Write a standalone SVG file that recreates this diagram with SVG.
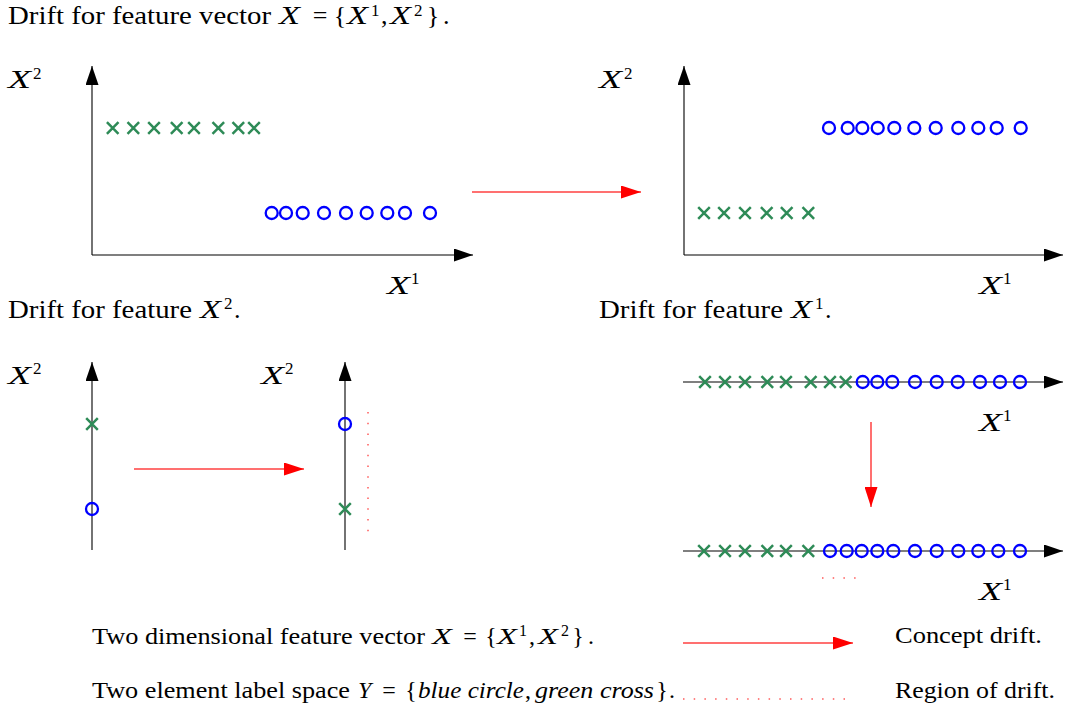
<svg xmlns="http://www.w3.org/2000/svg" width="1068" height="709" viewBox="0 0 1068 709">
<style>
.t{font-family:'Liberation Serif','Times New Roman',Times,'DejaVu Serif',serif;fill:#000}
.s26{font-size:26px}
.s24{font-size:24px}
.sup{font-size:17px}
.it{font-style:italic}
.mid{text-anchor:middle}
.axis{stroke:#000;stroke-width:1.1;fill:none}
.cx{stroke:#2e8b57;stroke-width:2.5;fill:none}
.o{stroke:#0000ff;stroke-width:2.3;fill:none}
.drift{stroke:#ff4040;stroke-width:1.5;fill:none}
.dots{stroke:#ff5a5a;stroke-width:1.5;fill:none;stroke-dasharray:1.5 9.2}
</style>
<defs>
<marker id="ahK" viewBox="0 0 19 13" markerWidth="19" markerHeight="13" refX="19" refY="6.5" orient="auto" markerUnits="userSpaceOnUse"><path d="M0,0 L19,6.5 L0,13 z" fill="#000"/></marker>
<marker id="ahR" viewBox="0 0 20 13" markerWidth="20" markerHeight="13" refX="20" refY="6.5" orient="auto" markerUnits="userSpaceOnUse"><path d="M0,0 L20,6.5 L0,13 z" fill="#ff0000"/></marker>
<path id="x" class="cx" d="M-5.8,-5.8 L5.8,5.8 M-5.8,5.8 L5.8,-5.8"/>
</defs>

<g id="title" font-family="Liberation Serif, serif">
<text class="t s26" x="8" y="24" textLength="263" lengthAdjust="spacingAndGlyphs">Drift for feature vector</text>
<text class="t s26 it" x="279" y="24" textLength="21" lengthAdjust="spacingAndGlyphs">X</text>
<text class="t s26 mid" x="320" y="24">=</text>
<text class="t s26 mid" x="340" y="24">{</text>
<text class="t s26 it" x="347" y="24" textLength="21" lengthAdjust="spacingAndGlyphs">X</text>
<text class="t sup" x="371" y="16">1</text>
<text class="t s26" x="381" y="24">,</text>
<text class="t s26 it" x="390" y="24" textLength="21" lengthAdjust="spacingAndGlyphs">X</text>
<text class="t sup" x="414" y="16">2</text>
<text class="t s26 mid" x="433" y="24">}</text>
<text class="t s26" x="443" y="24">.</text>
</g>

<g id="plot-before">
<line class="axis" x1="92" y1="255" x2="92" y2="66" marker-end="url(#ahK)"/>
<line class="axis" x1="92" y1="255" x2="473" y2="255" marker-end="url(#ahK)"/>
<text class="t s26 it" x="8" y="88" textLength="23" lengthAdjust="spacingAndGlyphs">X</text>
<text class="t sup" x="33" y="78.5">2</text>
<text class="t s26 it" x="387" y="294" textLength="23" lengthAdjust="spacingAndGlyphs">X</text>
<text class="t sup" x="411" y="284">1</text>
<use href="#x" x="112.7" y="128"/><use href="#x" x="133.3" y="128"/><use href="#x" x="154" y="128"/><use href="#x" x="176.7" y="128"/><use href="#x" x="194" y="128"/><use href="#x" x="218.3" y="128"/><use href="#x" x="238.3" y="128"/><use href="#x" x="254" y="128"/>
<circle class="o" cx="271.7" cy="213" r="6"/><circle class="o" cx="286" cy="213" r="6"/><circle class="o" cx="302.7" cy="213" r="6"/><circle class="o" cx="324" cy="213" r="6"/><circle class="o" cx="346" cy="213" r="6"/><circle class="o" cx="366.7" cy="213" r="6"/><circle class="o" cx="387.3" cy="213" r="6"/><circle class="o" cx="405" cy="213" r="6"/><circle class="o" cx="430" cy="213" r="6"/>
</g>

<g id="plot-after">
<line class="axis" x1="684" y1="255" x2="684" y2="66" marker-end="url(#ahK)"/>
<line class="axis" x1="684" y1="255" x2="1063" y2="255" marker-end="url(#ahK)"/>
<text class="t s26 it" x="599" y="88" textLength="23" lengthAdjust="spacingAndGlyphs">X</text>
<text class="t sup" x="624" y="78.5">2</text>
<text class="t s26 it" x="979" y="294" textLength="23" lengthAdjust="spacingAndGlyphs">X</text>
<text class="t sup" x="1003" y="284">1</text>
<use href="#x" x="704" y="213"/><use href="#x" x="724" y="213"/><use href="#x" x="745" y="213"/><use href="#x" x="766.7" y="213"/><use href="#x" x="786.7" y="213"/><use href="#x" x="808.3" y="213"/>
<circle class="o" cx="829" cy="128" r="6"/><circle class="o" cx="847.7" cy="128" r="6"/><circle class="o" cx="862.3" cy="128" r="6"/><circle class="o" cx="877.7" cy="128" r="6"/><circle class="o" cx="894.3" cy="128" r="6"/><circle class="o" cx="914.3" cy="128" r="6"/><circle class="o" cx="935.7" cy="128" r="6"/><circle class="o" cx="958.3" cy="128" r="6"/><circle class="o" cx="978.3" cy="128" r="6"/><circle class="o" cx="996.7" cy="128" r="6"/><circle class="o" cx="1020.7" cy="128" r="6"/>
</g>

<g id="subtitle-x2">
<text class="t s26" x="8" y="318" textLength="184" lengthAdjust="spacingAndGlyphs">Drift for feature</text>
<text class="t s26 it" x="200" y="318" textLength="21" lengthAdjust="spacingAndGlyphs">X</text>
<text class="t sup" x="224" y="309">2</text>
<text class="t s26" x="234" y="318">.</text>
</g>

<g id="subtitle-x1">
<text class="t s26" x="599" y="318" textLength="184" lengthAdjust="spacingAndGlyphs">Drift for feature</text>
<text class="t s26 it" x="791" y="318" textLength="21" lengthAdjust="spacingAndGlyphs">X</text>
<text class="t sup" x="815" y="309">1</text>
<text class="t s26" x="825" y="318">.</text>
</g>

<g id="x2-before">
<line class="axis" x1="92" y1="550" x2="92" y2="362" marker-end="url(#ahK)"/>
<text class="t s26 it" x="8" y="384" textLength="23" lengthAdjust="spacingAndGlyphs">X</text>
<text class="t sup" x="33" y="373.5">2</text>
<use href="#x" x="92" y="424"/>
<circle class="o" cx="92" cy="509" r="6"/>
</g>

<g id="x2-after">
<line class="axis" x1="345" y1="550" x2="345" y2="362" marker-end="url(#ahK)"/>
<text class="t s26 it" x="261" y="384" textLength="23" lengthAdjust="spacingAndGlyphs">X</text>
<text class="t sup" x="285" y="373.5">2</text>
<circle class="o" cx="345" cy="424" r="6"/>
<use href="#x" x="345" y="509"/>
<line class="dots" x1="368" y1="412" x2="368" y2="533"/>
</g>

<g id="x1-before">
<line class="axis" x1="683" y1="382" x2="1063" y2="382" marker-end="url(#ahK)"/>
<text class="t s26 it" x="979" y="431" textLength="23" lengthAdjust="spacingAndGlyphs">X</text>
<text class="t sup" x="1003" y="421">1</text>
<use href="#x" x="705" y="382"/><use href="#x" x="725" y="382"/><use href="#x" x="745" y="382"/><use href="#x" x="767.3" y="382"/><use href="#x" x="786" y="382"/><use href="#x" x="810.7" y="382"/><use href="#x" x="830" y="382"/><use href="#x" x="845.7" y="382"/>
<circle class="o" cx="862.7" cy="382" r="6"/><circle class="o" cx="877.3" cy="382" r="6"/><circle class="o" cx="892.3" cy="382" r="6"/><circle class="o" cx="915" cy="382" r="6"/><circle class="o" cx="936.7" cy="382" r="6"/><circle class="o" cx="957.7" cy="382" r="6"/><circle class="o" cx="980" cy="382" r="6"/><circle class="o" cx="1000" cy="382" r="6"/><circle class="o" cx="1020" cy="382" r="6"/>
</g>

<g id="x1-after">
<line class="axis" x1="683" y1="551" x2="1063" y2="551" marker-end="url(#ahK)"/>
<text class="t s26 it" x="979" y="600" textLength="23" lengthAdjust="spacingAndGlyphs">X</text>
<text class="t sup" x="1003" y="590">1</text>
<use href="#x" x="704" y="551"/><use href="#x" x="725" y="551"/><use href="#x" x="745" y="551"/><use href="#x" x="767.3" y="551"/><use href="#x" x="786" y="551"/><use href="#x" x="808.3" y="551"/>
<circle class="o" cx="830" cy="551" r="6"/><circle class="o" cx="846.7" cy="551" r="6"/><circle class="o" cx="861.7" cy="551" r="6"/><circle class="o" cx="877.3" cy="551" r="6"/><circle class="o" cx="893.3" cy="551" r="6"/><circle class="o" cx="915" cy="551" r="6"/><circle class="o" cx="936.7" cy="551" r="6"/><circle class="o" cx="958.3" cy="551" r="6"/><circle class="o" cx="978.3" cy="551" r="6"/><circle class="o" cx="998.3" cy="551" r="6"/><circle class="o" cx="1020" cy="551" r="6"/>
<line class="dots" x1="822" y1="578" x2="858" y2="578"/>
</g>

<g id="legend">
<text class="t s24" x="92" y="644" textLength="333" lengthAdjust="spacingAndGlyphs">Two dimensional feature vector</text>
<text class="t s24 it" x="432" y="644" textLength="20" lengthAdjust="spacingAndGlyphs">X</text>
<text class="t s24 mid" x="470" y="644">=</text>
<text class="t s24 mid" x="491" y="644">{</text>
<text class="t s24 it" x="497" y="644" textLength="20" lengthAdjust="spacingAndGlyphs">X</text>
<text class="t sup" x="519" y="635.5" style="font-size:16px">1</text>
<text class="t s24" x="529" y="644">,</text>
<text class="t s24 it" x="538" y="644" textLength="20" lengthAdjust="spacingAndGlyphs">X</text>
<text class="t sup" x="561" y="635.5" style="font-size:16px">2</text>
<text class="t s24 mid" x="578" y="644">}</text>
<text class="t s24" x="588" y="644">.</text>

<text class="t s24" x="92" y="698" textLength="258" lengthAdjust="spacingAndGlyphs">Two element label space</text>
<text class="t s24 it" x="358" y="698">Y</text>
<text class="t s24 mid" x="389" y="698">=</text>
<text class="t s24 mid" x="411" y="698">{</text>
<text class="t s24 it" x="418" y="698" textLength="106" lengthAdjust="spacingAndGlyphs">blue circle</text>
<text class="t s24" x="525" y="698">,</text>
<text class="t s24 it" x="535" y="698" textLength="119" lengthAdjust="spacingAndGlyphs">green cross</text>
<text class="t s24 mid" x="662" y="698">}</text>
<text class="t s24" x="669" y="698">.</text>

<text class="t s24" x="895" y="643" textLength="147" lengthAdjust="spacingAndGlyphs">Concept drift.</text>
<text class="t s24" x="895" y="698" textLength="160" lengthAdjust="spacingAndGlyphs">Region of drift.</text>
<line class="dots" x1="683" y1="699" x2="845" y2="699"/>
</g>

<g id="connectors">
<line class="drift" x1="472" y1="192" x2="641" y2="192" marker-end="url(#ahR)"/>
<line class="drift" x1="134" y1="469" x2="304" y2="469" marker-end="url(#ahR)"/>
<line class="drift" x1="871" y1="422" x2="871" y2="507" marker-end="url(#ahR)"/>
<line class="drift" x1="683" y1="643" x2="853" y2="643" marker-end="url(#ahR)"/>
</g>
</svg>
